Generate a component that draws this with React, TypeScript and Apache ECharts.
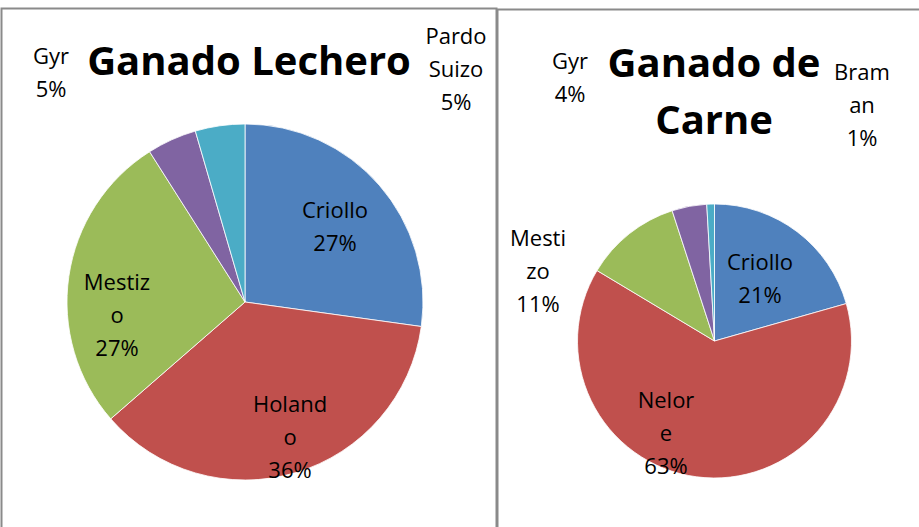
import React, { useEffect, useRef } from "react";
import * as echarts from "echarts";

// ---- data ----
const dairyCategories = ["Criollo", "Holando", "Mestizo", "Gyr", "Pardo Suizo"];
const dairyValues = [27.2, 36.4, 27.4, 4.5, 4.5];
const dairyLabelNames = ["Criollo", "Holand\no", "Mestiz\no", "Gyr", "Pardo\nSuizo"];

const beefCategories = ["Criollo", "Nelore", "Mestizo", "Gyr", "Braman"];
const beefValues = [20.6, 63.0, 11.4, 4.1, 0.9];
const beefLabelNames = ["Criollo", "Nelor\ne", "Mesti\nzo", "Gyr", "Bram\nan"];

const dairyTitle = "Ganado Lechero";
const beefTitle = "Ganado de\nCarne";

// ---- layout / style ----
const COLORS = ["#4F81BD", "#C0504D", "#9BBB59", "#8064A2", "#4BACC6"];
const FONT = "'Open Sans', 'Noto Sans', sans-serif";
const dairyLabelPos = [
  [335, 225],
  [290, 436],
  [117, 314],
  [51, 71],
  [456, 68],
];
const beefLabelPos = [
  [760, 277],
  [666, 432],
  [538, 270],
  [570, 76],
  [862, 104],
];

function makeSeries(
  cats: string[],
  vals: number[],
  labelNames: string[],
  pos: number[][],
  center: number[],
  radius: number
) {
  return {
    type: "pie",
    center,
    radius,
    startAngle: 90,
    clockwise: true,
    avoidLabelOverlap: false,
    silent: true,
    itemStyle: { borderColor: "#ffffff", borderWidth: 0.8 },
    label: {
      show: true,
      position: "inside",
      color: "#000",
      fontFamily: FONT,
      fontSize: 22,
      lineHeight: 33,
      align: "center",
      formatter: (p: any) =>
        labelNames[p.dataIndex] + "\n" + Math.round(p.percent) + "%",
    },
    labelLine: { show: false },
    labelLayout: (p: any) => ({
      x: pos[p.dataIndex][0],
      y: pos[p.dataIndex][1],
      align: "center",
      verticalAlign: "middle",
      hideOverlap: false,
    }),
    data: cats.map((c, i) => ({
      name: c,
      value: vals[i],
      itemStyle: { color: COLORS[i] },
    })),
  };
}

export default function App() {
  const ref = useRef<HTMLDivElement>(null);
  useEffect(() => {
    document.body.style.margin = "0";
    if (!ref.current) return;
    const chart = echarts.init(ref.current, null, { renderer: "svg" });
    chart.setOption({
      animation: false,
      backgroundColor: "#ffffff",
      graphic: [
        {
          type: "rect",
          shape: { x: 1.5, y: 8.5, width: 495, height: 540 },
          style: { fill: "none", stroke: "#8a8a8a", lineWidth: 2 },
          z: -1,
        },
        {
          type: "rect",
          shape: { x: 497.5, y: 9.5, width: 440, height: 540 },
          style: { fill: "none", stroke: "#8a8a8a", lineWidth: 2 },
          z: -1,
        },
        {
          type: "text",
          x: 249,
          y: 59,
          style: {
            text: dairyTitle,
            font: `bold 40px ${FONT}`,
            fill: "#000",
            textAlign: "center",
            textVerticalAlign: "middle",
          },
        },
        {
          type: "text",
          x: 714,
          y: 90,
          style: {
            text: beefTitle,
            font: `bold 40px ${FONT}`,
            lineHeight: 57,
            fill: "#000",
            textAlign: "center",
            textVerticalAlign: "middle",
          },
        },
      ],
      series: [
        makeSeries(dairyCategories, dairyValues, dairyLabelNames, dairyLabelPos, [245, 302], 178),
        makeSeries(beefCategories, beefValues, beefLabelNames, beefLabelPos, [714.5, 341], 137),
      ],
    });
    return () => chart.dispose();
  }, []);
  return <div ref={ref} style={{ width: 919, height: 527 }} />;
}
